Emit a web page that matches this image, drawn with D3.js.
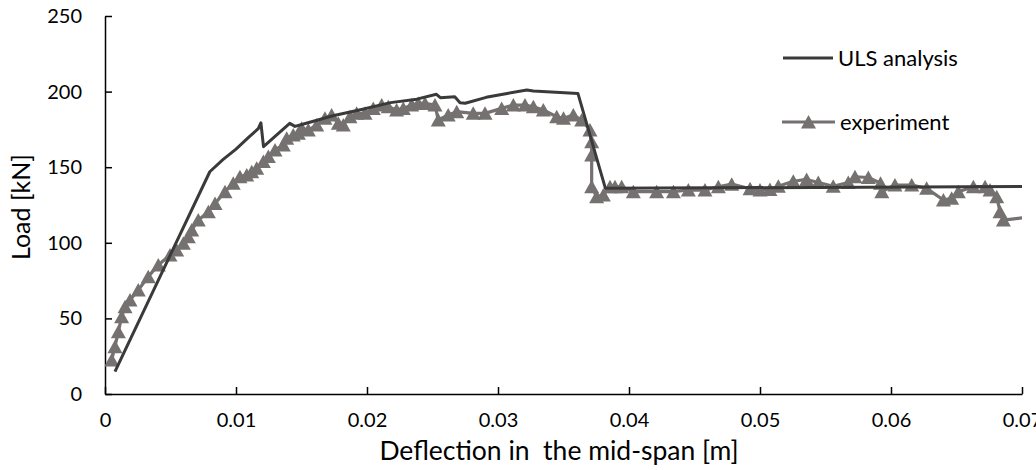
<!DOCTYPE html>
<html>
<head>
<meta charset="utf-8">
<script src="https://cdn.jsdelivr.net/npm/d3@7/dist/d3.min.js"></script>
<style>
  html, body { margin: 0; padding: 0; background: #fff; }
  svg { display: block; font-family: Lato, "Open Sans", sans-serif; }
</style>
</head>
<body>
<svg id="chart" width="1036" height="470"></svg>
<script>
// Load–deflection data, deflection in metres, load in kN
const ulsDeflection = [0.00076, 0.0080, 0.0090, 0.0100, 0.0110, 0.0117, 0.0119, 0.0121, 0.0141, 0.0145,
  0.0155, 0.0174, 0.0195, 0.0218, 0.0238, 0.0253, 0.0256, 0.0267, 0.0271, 0.0275,
  0.0291, 0.0307, 0.0322, 0.0327, 0.0361, 0.0382, 0.0700];
const ulsLoad = [14.8, 147, 155, 162, 170, 175.5, 179.4, 163.6, 179, 177,
  179.4, 184, 188, 192.7, 195, 198.2, 196, 196.6, 192.7, 192.3,
  196.2, 198.8, 201, 200.4, 198.8, 136, 137.3];

const expDeflection = [0.00051, 0.00076, 0.00102, 0.00127, 0.00153, 0.00191, 0.00254, 0.0033, 0.00407, 0.00496,
  0.00547, 0.00598, 0.00636, 0.00662, 0.00712, 0.00789, 0.0084, 0.00916, 0.00979, 0.0103,
  0.01082, 0.0112, 0.01158, 0.01209, 0.01247, 0.01298, 0.01361, 0.01387, 0.01437, 0.01476,
  0.01501, 0.01552, 0.01616, 0.01679, 0.0173, 0.01781, 0.01819, 0.0187, 0.01921, 0.01985,
  0.02048, 0.02112, 0.02162, 0.02226, 0.02277, 0.02341, 0.02392, 0.02443, 0.02519, 0.02544,
  0.0262, 0.02685, 0.02811, 0.02901, 0.03028, 0.03117, 0.03206, 0.0327, 0.03346, 0.03448,
  0.035, 0.03575, 0.03639, 0.03702, 0.03715, 0.03715, 0.03715, 0.03753, 0.03804, 0.03855,
  0.03893, 0.03944, 0.04033, 0.04211, 0.04339, 0.04453, 0.0458, 0.04682, 0.04784, 0.04924,
  0.05, 0.05076, 0.0514, 0.05254, 0.05356, 0.05445, 0.05559, 0.05674, 0.05725, 0.05827,
  0.0592, 0.0593, 0.0603, 0.06158, 0.06272, 0.064, 0.06463, 0.06514, 0.06629, 0.06718,
  0.06756, 0.06807, 0.06832, 0.06858, 0.0712];
const expLoad = [22.5, 31.3, 41.2, 51.1, 57.7, 62.2, 68.8, 77.6, 85.3, 91.9,
  95.2, 99.7, 104, 108.5, 115, 120.6, 126, 133.8, 139.4, 143.7,
  144.8, 147, 149.3, 153.7, 157, 161.4, 164.7, 169.1, 171.3, 172.4,
  175.7, 174.6, 177.9, 182.3, 184.5, 179, 177.9, 183.4, 185.6, 185.6,
  188.9, 191.1, 190, 187.8, 188.9, 191.1, 192.2, 192.2, 191.1, 181.2,
  184.5, 186.7, 185.6, 185.6, 188.9, 191.1, 191.1, 190, 187.8, 183.4,
  182.3, 184.5, 181.2, 174.6, 166.9, 158, 137.1, 130.5, 131.6, 137.1,
  137.1, 137.1, 133.8, 133.8, 133.8, 134.9, 134.9, 137.1, 138.8, 135.7,
  134.9, 135.3, 137.4, 140.7, 141.9, 139.9, 137.4, 139.9, 143.7, 143.2,
  139.4, 133.8, 138.2, 138.2, 136, 128.3, 129.4, 133.8, 137.1, 137.1,
  134.9, 130.5, 120.6, 115, 117.8];

const xTicks = [0, 0.01, 0.02, 0.03, 0.04, 0.05, 0.06, 0.07];
const yTicks = [0, 50, 100, 150, 200, 250];
const seriesNames = ["ULS analysis", "experiment"];

const ulsColor = "#3a3a3a";
const expColor = "#767171";

const svg = d3.select("#chart");
const plot = { left: 105, right: 1022, top: 16, bottom: 394 };

const x = d3.scaleLinear().domain([0, 0.07]).range([plot.left, plot.right]);
const y = d3.scaleLinear().domain([0, 250]).range([plot.bottom, plot.top]);

svg.append("defs").append("clipPath").attr("id", "plot-clip")
  .append("rect")
  .attr("x", plot.left).attr("y", 0)
  .attr("width", plot.right - plot.left).attr("height", plot.bottom);

// Axes with inward tick marks
const xAxis = svg.append("g")
  .attr("transform", `translate(0,${plot.bottom})`)
  .call(d3.axisBottom(x).tickValues(xTicks).tickSizeInner(-7).tickSizeOuter(0).tickPadding(19)
    .tickFormat(d => d === 0 ? "0" : d3.format(".2f")(d)));
const yAxis = svg.append("g")
  .attr("transform", `translate(${plot.left},0)`)
  .call(d3.axisLeft(y).tickValues(yTicks).tickSizeInner(-7).tickSizeOuter(0).tickPadding(23)
    .tickFormat(d3.format("d")));

[xAxis, yAxis].forEach(g => {
  g.selectAll("path.domain").attr("stroke", "#000").attr("stroke-width", 1.5);
  g.selectAll(".tick line").attr("stroke", "#000").attr("stroke-width", 1.5);
  g.selectAll(".tick text").attr("fill", "#000").style("font-size", "20px")
    .style("font-family", "Lato, sans-serif");
});

// Axis titles
svg.append("text")
  .attr("x", 559)
  .attr("y", 460)
  .attr("text-anchor", "middle")
  .style("font-size", "26.5px")
  .style("white-space", "pre")
  .attr("fill", "#000")
  .text("Deflection in  the mid-span [m]");

svg.append("text")
  .attr("transform", "translate(30,207) rotate(-90)")
  .attr("text-anchor", "middle")
  .style("font-size", "25px")
  .attr("fill", "#000")
  .text("Load [kN]");

const ulsData = ulsDeflection.map((d, i) => [d, ulsLoad[i]]);
const expData = expDeflection.map((d, i) => [d, expLoad[i]]);
const line = d3.line().x(d => x(d[0])).y(d => y(d[1]));

const series = svg.append("g").attr("clip-path", "url(#plot-clip)");

// Experimental curve with triangle markers
series.append("path")
  .datum(expData)
  .attr("d", line)
  .attr("fill", "none")
  .attr("stroke", expColor)
  .attr("stroke-width", 3.2)
  .attr("stroke-linejoin", "round");

const tri = "M0,-7L7.5,6.5L-7.5,6.5Z";
series.append("g").selectAll("path")
  .data(expData)
  .join("path")
  .attr("transform", d => `translate(${x(d[0])},${y(d[1])})`)
  .attr("d", tri)
  .attr("fill", expColor);

// ULS analysis curve
svg.append("path")
  .datum(ulsData)
  .attr("clip-path", "url(#plot-clip)")
  .attr("d", line)
  .attr("fill", "none")
  .attr("stroke", ulsColor)
  .attr("stroke-width", 3)
  .attr("stroke-linejoin", "round");

// Legend
const legend = svg.append("g");
const l1 = legend.append("g").attr("transform", "translate(783,58)");
l1.append("line").attr("x1", 0).attr("x2", 50).attr("stroke", ulsColor).attr("stroke-width", 3);
l1.append("text").attr("x", 55).attr("dy", "0.35em").style("font-size", "22px").attr("fill", "#000")
  .text(seriesNames[0]);

const l2 = legend.append("g").attr("transform", "translate(782,122)");
l2.append("line").attr("x1", 0).attr("x2", 53).attr("stroke", expColor).attr("stroke-width", 3.2);
l2.append("path").attr("transform", "translate(26.5,0)").attr("d", tri).attr("fill", expColor);
l2.append("text").attr("x", 58).attr("dy", "0.35em").style("font-size", "22px").attr("fill", "#000")
  .text(seriesNames[1]);
</script>
</body>
</html>
